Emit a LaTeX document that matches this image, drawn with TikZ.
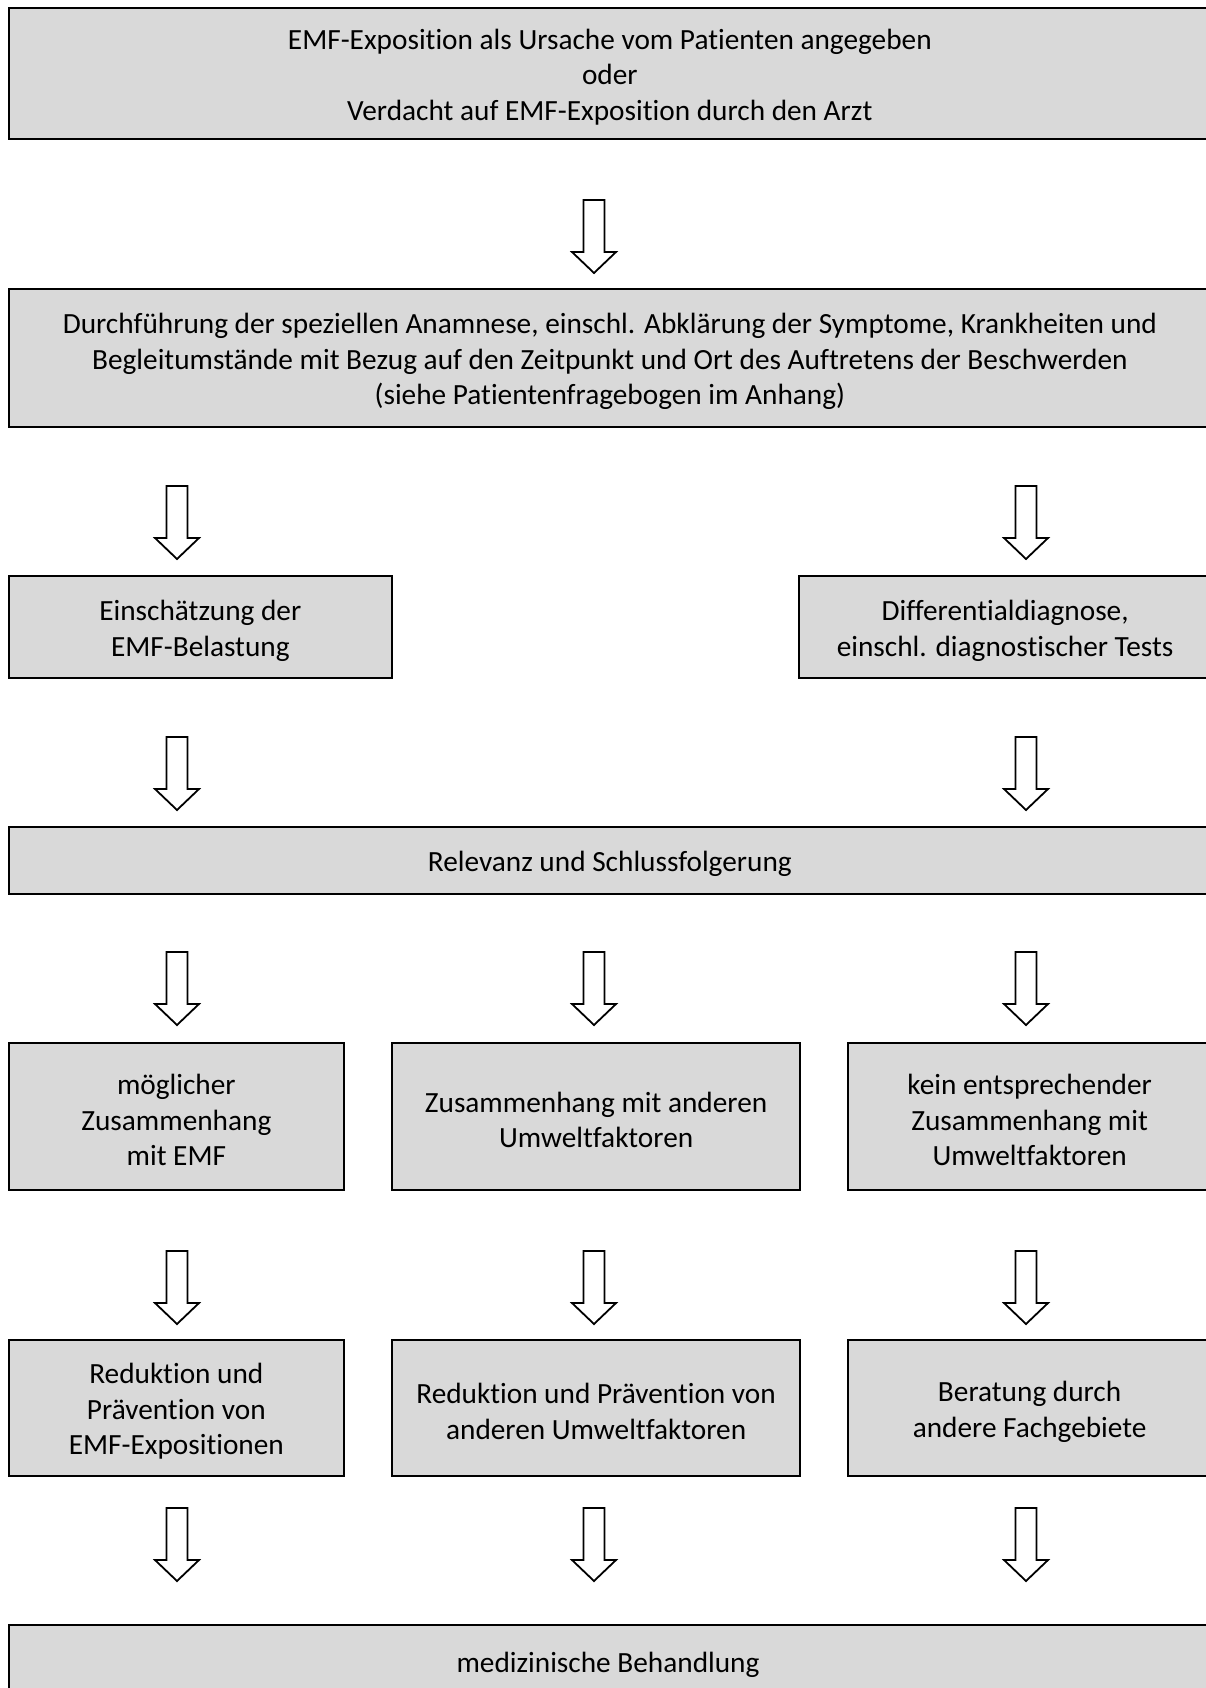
\documentclass[tikz,border=0pt]{standalone}
\usepackage{fontspec}
\setmainfont{Carlito}[Ligatures=NoCommon]
\definecolor{boxgray}{HTML}{D9D9D9}
\tikzset{
  box/.style={draw=black, line width=2.2pt, fill=boxgray, rectangle, anchor=north west, inner sep=0pt},
  boxtext/.style={align=center, inner sep=0pt, font=\fontsize{29.3}{35.5}\selectfont},
  arrowline/.style={draw=black, line width=1.8pt, fill=white, line join=miter},
  downarrow/.pic={\path[arrowline] (-10.5,0) -- (10.5,0) -- (10.5,52) -- (22,52) -- (0,73) -- (-22,52) -- (-10.5,52) -- cycle;}
}
\newcommand{\mkbox}[6]{% name, x1, y1, x2, y2, text
  \node[box, minimum width=#4pt-#2pt, minimum height=#5pt-#3pt] (#1) at (#2,#3) {};
  \node[boxtext] (#1t) at ([yshift=-3.5pt]#1.center) {#6};}
\begin{document}
\begin{tikzpicture}[x=1pt,y=-1pt]
\useasboundingbox (0,0) rectangle (1205,1688);
\mkbox{b1}{7.5}{7}{1210}{138}{EMF-Exposition als Ursache vom Patienten angegeben\\oder\\Verdacht auf EMF-Exposition durch den Arzt}
\mkbox{b2}{7.5}{288}{1210}{426}{Durchführung der speziellen Anamnese, einschl. Abklärung der Symptome, Krankheiten und\\Begleitumstände mit Bezug auf den Zeitpunkt und Ort des Auftretens der Beschwerden\\(siehe Patientenfragebogen im Anhang)}
\mkbox{b3l}{7.5}{575}{391}{677}{Einschätzung der\\EMF-Belastung}
\mkbox{b3r}{798}{575}{1210}{677}{Differentialdiagnose,\\einschl. diagnostischer Tests}
\mkbox{b4}{7.5}{826}{1210}{893}{Relevanz und Schlussfolgerung}
\mkbox{b5l}{7.5}{1042}{343}{1189}{möglicher\\Zusammenhang\\mit EMF}
\mkbox{b5m}{391}{1042}{799}{1189}{Zusammenhang mit anderen\\Umweltfaktoren}
\mkbox{b5r}{847}{1042}{1210}{1189}{kein entsprechender\\Zusammenhang mit\\Umweltfaktoren}
\mkbox{b6l}{7.5}{1339}{343}{1475}{Reduktion und\\Prävention von\\EMF-Expositionen}
\mkbox{b6m}{391}{1339}{799}{1475}{Reduktion und Prävention von\\anderen Umweltfaktoren}
\mkbox{b6r}{847}{1339}{1210}{1475}{Beratung durch\\andere Fachgebiete}
\node[box, minimum width=1202.5pt, minimum height=80pt] (b7) at (7.5,1624) {};
\node[boxtext] (b7t) at (608,1665) {medizinische Behandlung};
% block arrows
\pic at (594,200) {downarrow};
\foreach \x in {177,1026} {\pic at (\x,486) {downarrow}; \pic at (\x,737) {downarrow};}
\foreach \y in {952,1251,1508} {\foreach \x in {177,594,1026} {\pic at (\x,\y) {downarrow};}}
\end{tikzpicture}
\end{document}
